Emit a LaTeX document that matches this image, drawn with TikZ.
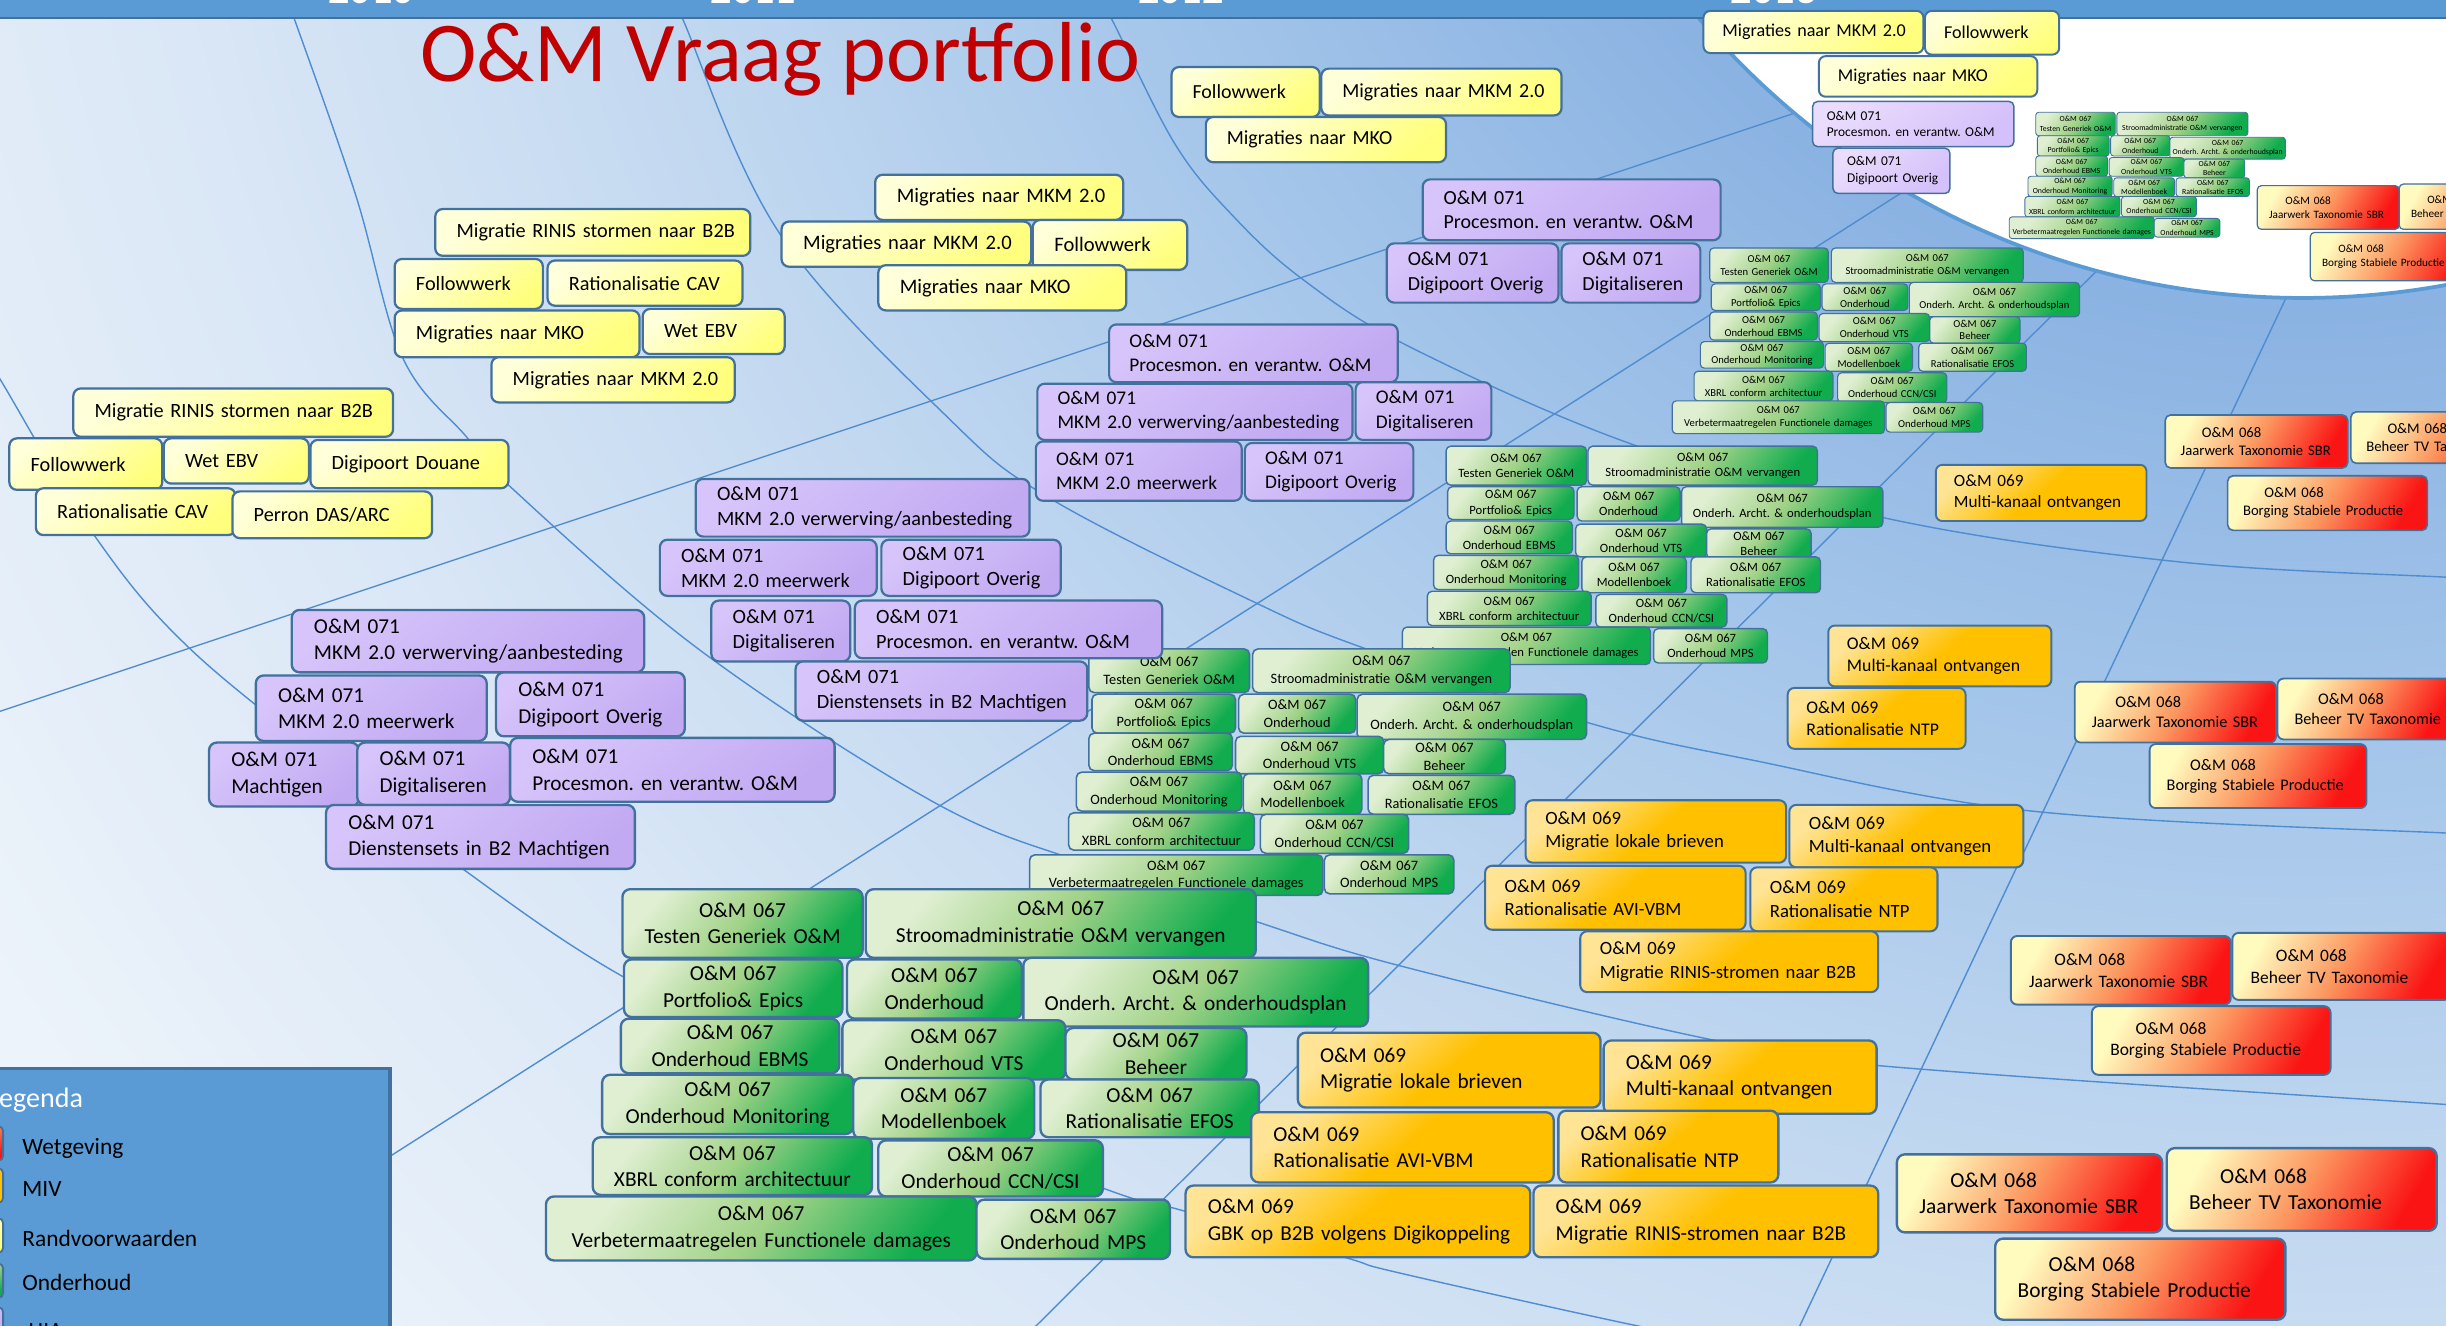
\documentclass[tikz,border=0pt]{standalone}
\usepackage{fontspec}
\setmainfont{Carlito}
\frenchspacing

\definecolor{barblue}{RGB}{91,155,213}
\definecolor{edgeblue}{RGB}{65,113,156}
\definecolor{ringblue}{RGB}{79,140,208}
\definecolor{titlered}{RGB}{192,0,0}
\definecolor{bgA}{RGB}{138,178,226}
\definecolor{bgB}{RGB}{165,198,234}
\definecolor{bgC}{RGB}{194,216,240}
\definecolor{bgD}{RGB}{218,231,246}
\definecolor{bgE}{RGB}{236,243,250}
\definecolor{yelA}{RGB}{255,255,218}
\definecolor{yelB}{RGB}{255,255,125}
\definecolor{purA}{RGB}{214,196,250}
\definecolor{purB}{RGB}{194,170,242}
\definecolor{purlA}{RGB}{234,220,253}
\definecolor{purlB}{RGB}{212,192,250}
\definecolor{grnA}{RGB}{224,239,210}
\definecolor{grnM}{RGB}{160,210,135}
\definecolor{grnB}{RGB}{16,172,78}
\definecolor{orA}{RGB}{255,228,150}
\definecolor{orB}{RGB}{255,192,0}
\definecolor{redA}{RGB}{255,250,190}
\definecolor{redM}{RGB}{252,150,95}
\definecolor{redB}{RGB}{250,20,20}

% path bounding box maps to the inner 25bp radius
\pgfdeclareradialshading{bgshade}{\pgfpointorigin}{color(0bp)=(bgA); color(6.35bp)=(bgA); color(10bp)=(bgB); color(13.75bp)=(bgC); color(17.5bp)=(bgD); color(21.9bp)=(bgE); color(25bp)=(bgE); color(50bp)=(bgE)}

\tikzset{
  fs/.style 2 args={font=\fontsize{#1}{#2}\selectfont, line width=0.11*#1*1pt, rounded corners=0.37*#1*1pt},
  box/.style={anchor=north west, draw=edgeblue, inner ysep=0pt, inner xsep=0pt, outer sep=0pt},
  bl/.style 2 args={box, text width=#1*0.5pt, minimum height=#2*0.5pt,
    execute at begin node={\leftskip=1.05em\rightskip=0pt plus 1fil}},
  bc/.style 2 args={box, text width=#1*0.5pt, minimum height=#2*0.5pt, align=center},
  yel/.style={top color=yelA, bottom color=yelB, shading angle=40},
  pur/.style={top color=purA, bottom color=purB, shading angle=40},
  purl/.style={top color=purlA, bottom color=purlB, shading angle=40},
  grn/.style={top color=grnA, bottom color=grnB, middle color=grnM, shading angle=50},
  org/.style={top color=orA, bottom color=orB, middle color=orB, shading angle=40},
  rood/.style={top color=redA, bottom color=redB, middle color=redM, shading angle=60},
  ring/.style={draw=ringblue, line width=0.45pt},
  year/.style={anchor=base, inner sep=0pt, text=white, font=\bfseries\fontsize{13.5}{16}\selectfont},
  legtxt/.style={anchor=base west, inner sep=0pt, font=\fontsize{7.5}{9}\selectfont},
  legsq/.style={box, minimum width=10.5pt, minimum height=11pt, rounded corners=1.5pt, line width=0.6pt}
}

\begin{document}
\begin{tikzpicture}[x=0.5pt, y=-0.5pt]
  \useasboundingbox (0,0) rectangle (1568,850);
  \clip (0,0) rectangle (1568,850);

  % background with rings and spokes
  \shade[shading=bgshade] (1476,-316) circle [radius=1000pt];
  \draw[ring] plot[smooth, tension=0.6] coordinates {(-10,228) (0,243) (61,344) (123,417) (229,503) (298,558) (401,627) (550,700) (708,762) (758,776) (862,806) (897,816) (1050,850) (1100,858)};
  \draw[ring] plot[smooth, tension=0.6] coordinates {(180,-10) (189,13) (228,125) (258,229) (299,280) (326,311) (449,417) (600,515) (700,555) (806,591) (897,619) (1090,665) (1203,683) (1568,708) (1620,710)};
  \draw[ring] plot[smooth, tension=0.6] coordinates {(430,-10) (438,13) (500,150) (609,269) (674,320) (802,385) (873,415) (1017,463) (1122,487) (1303,520) (1568,534) (1620,535)};
  \draw[ring] plot[smooth, tension=0.6] coordinates {(700,-10) (713,13) (753,92) (790,138) (835,179) (903,222) (1044,284) (1208,332) (1395,360) (1568,370) (1620,372)};
  \draw[ring] (-30,466) -- (1200,56);
  \draw[ring] (150,805) -- (1270,91);
  \draw[ring] (640,874) -- (1400,118);
  \draw[ring] (1140,879) -- (1490,139);
  \filldraw[fill=white, draw=barblue, line width=1.2pt] (1476,-316) circle [radius=253.5pt];

  % year bar
  \fill[barblue] (0,0) rectangle (1568,11);
  \draw[edgeblue, line width=0.9pt] (0,11.5) -- (1568,11.5);
  \node[year] (j10) at (238,2) {2010};
  \node[year] (j11) at (483,2) {2011};
  \node[year] (j12) at (757,2) {2012};
  \node[year] (j13) at (1137,2) {2013};

  \node[anchor=base west, inner sep=0pt, text=titlered, font=\fontsize{27.3}{32}\selectfont] (title) at (269,52) {O\&M Vraag portfolio};

  % Randvoorwaarden
  \begin{scope}[every node/.append style={fs={5.8}{7}}]
    \node[yel, bl={141}{27}] (y5a) at (1092,7) {Migraties naar MKM 2.0};
    \node[yel, bl={86}{28}] (y5b) at (1234,7) {Followwerk};
    \node[yel, bl={140}{26}] (y5c) at (1166,36) {Migraties naar MKO};
  \end{scope}
  \begin{scope}[every node/.append style={fs={6.4}{7.9}}]
    \node[yel, bl={95}{32}] (y4a) at (751,43) {Followwerk};
    \node[yel, bl={154}{30}] (y4b) at (847,44) {Migraties naar MKM 2.0};
    \node[yel, bl={154}{29}] (y4c) at (773,75) {Migraties naar MKO};
  \end{scope}
  \begin{scope}[every node/.append style={fs={6.6}{8.2}}]
    \node[yel, bl={159}{29}] (y3a) at (561,112) {Migraties naar MKM 2.0};
    \node[yel, bl={160}{29}] (y3b) at (501,142) {Migraties naar MKM 2.0};
    \node[yel, bl={99}{32}] (y3c) at (662,141) {Followwerk};
    \node[yel, bl={159}{29}] (y3d) at (563,170) {Migraties naar MKO};
  \end{scope}
  \begin{scope}[every node/.append style={fs={6.5}{8.1}}]
    \node[yel, bl={202}{30}] (y2a) at (279,134) {Migratie RINIS stormen naar B2B};
    \node[yel, bl={95}{32}] (y2b) at (253,166) {Followwerk};
    \node[yel, bl={125}{29}] (y2c) at (351,167) {Rationalisatie CAV};
    \node[yel, bl={157}{30}] (y2d) at (253,199) {Migraties naar MKO};
    \node[yel, bl={91}{29}] (y2e) at (412,198) {Wet EBV};
    \node[yel, bl={156}{29}] (y2f) at (315,229) {Migraties naar MKM 2.0};
  \end{scope}
  \begin{scope}[every node/.append style={fs={6.5}{8.1}}]
    \node[yel, bl={205}{31}] (y1a) at (47,249) {Migratie RINIS stormen naar B2B};
    \node[yel, bl={98}{33}] (y1b) at (6,281) {Followwerk};
    \node[yel, bl={93}{29}] (y1c) at (105,281) {Wet EBV};
    \node[yel, bl={127}{31}] (y1d) at (199,282) {Digipoort Douane};
    \node[yel, bl={128}{30}] (y1e) at (23,313) {Rationalisatie CAV};
    \node[yel, bl={128}{30}] (y1f) at (149,315) {Perron DAS/ARC};
  \end{scope}

  % Onderhoud
  \begin{scope}[every node/.append style={fs={2.5}{3.05}}]
    \node[grn, bc={51}{15}] (g5a) at (1305,72) {O\&M 067\\Testen Generiek O\&M};
    \node[grn, bc={84}{15}] (g5b) at (1357,72) {O\&M 067\\Stroomadministratie O\&M vervangen};
    \node[grn, bc={46}{13}] (g5c) at (1306,87) {O\&M 067\\Portfolio\& Epics};
    \node[grn, bc={38}{13}] (g5d) at (1353,87) {O\&M 067\\Onderhoud};
    \node[grn, bc={74}{14}] (g5e) at (1391,88) {O\&M 067\\Onderh. Archt. \& onderhoudsplan};
    \node[grn, bc={46}{13}] (g5f) at (1305,100) {O\&M 067\\Onderhoud EBMS};
    \node[grn, bc={48}{12}] (g5g) at (1352,101) {O\&M 067\\Onderhoud VTS};
    \node[grn, bc={39}{12}] (g5h) at (1400,102) {O\&M 067\\Beheer};
    \node[grn, bc={54}{13}] (g5i) at (1300,113) {O\&M 067\\Onderhoud Monitoring};
    \node[grn, bc={39}{12}] (g5j) at (1355,114) {O\&M 067\\Modellenboek};
    \node[grn, bc={47}{12}] (g5k) at (1395,114) {O\&M 067\\Rationalisatie EFOS};
    \node[grn, bc={61}{13}] (g5l) at (1298,126) {O\&M 067\\XBRL conform architectuur};
    \node[grn, bc={48}{13}] (g5m) at (1360,126) {O\&M 067\\Onderhoud CCN/CSI};
    \node[grn, bc={93}{14}] (g5n) at (1288,139) {O\&M 067\\Verbetermaatregelen Functionele damages};
    \node[grn, bc={42}{12}] (g5o) at (1381,140) {O\&M 067\\Onderhoud MPS};
  \end{scope}
  \begin{scope}[every node/.append style={fs={3.4}{4.1}}]
    \node[grn, bc={76}{22}] (g4a) at (1096,159) {O\&M 067\\Testen Generiek O\&M};
    \node[grn, bc={123}{22}] (g4b) at (1174,159) {O\&M 067\\Stroomadministratie O\&M vervangen};
    \node[grn, bc={70}{17}] (g4c) at (1097,182) {O\&M 067\\Portfolio\& Epics};
    \node[grn, bc={55}{17}] (g4d) at (1168,182) {O\&M 067\\Onderhoud};
    \node[grn, bc={109}{22}] (g4e) at (1224,181) {O\&M 067\\Onderh. Archt. \& onderhoudsplan};
    \node[grn, bc={69}{18}] (g4f) at (1096,200) {O\&M 067\\Onderhoud EBMS};
    \node[grn, bc={71}{18}] (g4g) at (1166,201) {O\&M 067\\Onderhoud VTS};
    \node[grn, bc={58}{17}] (g4h) at (1237,203) {O\&M 067\\Beheer};
    \node[grn, bc={79}{17}] (g4i) at (1090,219) {O\&M 067\\Onderhoud Monitoring};
    \node[grn, bc={56}{18}] (g4j) at (1170,220) {O\&M 067\\Modellenboek};
    \node[grn, bc={69}{18}] (g4k) at (1230,220) {O\&M 067\\Rationalisatie EFOS};
    \node[grn, bc={89}{19}] (g4l) at (1086,238) {O\&M 067\\XBRL conform architectuur};
    \node[grn, bc={70}{19}] (g4m) at (1178,239) {O\&M 067\\Onderhoud CCN/CSI};
    \node[grn, bc={136}{21}] (g4n) at (1072,257) {O\&M 067\\Verbetermaatregelen Functionele damages};
    \node[grn, bc={62}{19}] (g4o) at (1209,258) {O\&M 067\\Onderhoud MPS};
  \end{scope}
  \begin{scope}[every node/.append style={fs={4.05}{4.9}}]
    \node[grn, bc={90}{25}] (g3a) at (927,286) {O\&M 067\\Testen Generiek O\&M};
    \node[grn, bc={147}{25}] (g3b) at (1018,286) {O\&M 067\\Stroomadministratie O\&M vervangen};
    \node[grn, bc={81}{21}] (g3c) at (928,312) {O\&M 067\\Portfolio\& Epics};
    \node[grn, bc={66}{22}] (g3d) at (1011,312) {O\&M 067\\Onderhoud};
    \node[grn, bc={129}{26}] (g3e) at (1078,312) {O\&M 067\\Onderh. Archt. \& onderhoudsplan};
    \node[grn, bc={81}{21}] (g3f) at (927,334) {O\&M 067\\Onderhoud EBMS};
    \node[grn, bc={84}{21}] (g3g) at (1010,336) {O\&M 067\\Onderhoud VTS};
    \node[grn, bc={67}{19}] (g3h) at (1094,339) {O\&M 067\\Beheer};
    \node[grn, bc={93}{22}] (g3i) at (919,356) {O\&M 067\\Onderhoud Monitoring};
    \node[grn, bc={67}{23}] (g3j) at (1014,357) {O\&M 067\\Modellenboek};
    \node[grn, bc={83}{23}] (g3k) at (1084,357) {O\&M 067\\Rationalisatie EFOS};
    \node[grn, bc={105}{22}] (g3l) at (915,379) {O\&M 067\\XBRL conform architectuur};
    \node[grn, bc={84}{21}] (g3m) at (1023,381) {O\&M 067\\Onderhoud CCN/CSI};
    \node[grn, bc={159}{24}] (g3n) at (899,402) {O\&M 067\\Verbetermaatregelen Functionele damages};
    \node[grn, bc={73}{22}] (g3o) at (1060,403) {O\&M 067\\Onderhoud MPS};
  \end{scope}
  \begin{scope}[every node/.append style={fs={4.6}{5.6}}]
    \node[grn, bc={103}{28}] (g2a) at (698,416) {O\&M 067\\Testen Generiek O\&M};
    \node[grn, bc={165}{28}] (g2b) at (803,416) {O\&M 067\\Stroomadministratie O\&M vervangen};
    \node[grn, bc={92}{25}] (g2c) at (700,445) {O\&M 067\\Portfolio\& Epics};
    \node[grn, bc={75}{25}] (g2d) at (794,445) {O\&M 067\\Onderhoud};
    \node[grn, bc={147}{29}] (g2e) at (870,445) {O\&M 067\\Onderh. Archt. \& onderhoudsplan};
    \node[grn, bc={92}{24}] (g2f) at (698,470) {O\&M 067\\Onderhoud EBMS};
    \node[grn, bc={95}{24}] (g2g) at (792,472) {O\&M 067\\Onderhoud VTS};
    \node[grn, bc={78}{22}] (g2h) at (887,474) {O\&M 067\\Beheer};
    \node[grn, bc={106}{25}] (g2i) at (690,495) {O\&M 067\\Onderhoud Monitoring};
    \node[grn, bc={76}{26}] (g2j) at (797,496) {O\&M 067\\Modellenboek};
    \node[grn, bc={94}{25}] (g2k) at (877,497) {O\&M 067\\Rationalisatie EFOS};
    \node[grn, bc={119}{24}] (g2l) at (685,521) {O\&M 067\\XBRL conform architectuur};
    \node[grn, bc={95}{25}] (g2m) at (808,522) {O\&M 067\\Onderhoud CCN/CSI};
    \node[grn, bc={188}{26}] (g2n) at (660,548) {O\&M 067\\Verbetermaatregelen Functionele damages};
    \node[grn, bc={83}{25}] (g2o) at (849,548) {O\&M 067\\Onderhoud MPS};
  \end{scope}
  \begin{scope}[every node/.append style={fs={6.85}{8.5}}]
    \node[grn, bc={154}{44}] (g1a) at (399,570) {O\&M 067\\Testen Generiek O\&M};
    \node[grn, bc={250}{44}] (g1b) at (555,570) {O\&M 067\\Stroomadministratie O\&M vervangen};
    \node[grn, bc={140}{37}] (g1c) at (400,615) {O\&M 067\\Portfolio\& Epics};
    \node[grn, bc={112}{38}] (g1d) at (543,615) {O\&M 067\\Onderhoud};
    \node[grn, bc={221}{44}] (g1e) at (656,614) {O\&M 067\\Onderh. Archt. \& onderhoudsplan};
    \node[grn, bc={140}{35}] (g1f) at (398,653) {O\&M 067\\Onderhoud EBMS};
    \node[grn, bc={143}{38}] (g1g) at (540,654) {O\&M 067\\Onderhoud VTS};
    \node[grn, bc={116}{33}] (g1h) at (683,659) {O\&M 067\\Beheer};
    \node[grn, bc={161}{38}] (g1i) at (386,689) {O\&M 067\\Onderhoud Monitoring};
    \node[grn, bc={116}{39}] (g1j) at (547,691) {O\&M 067\\Modellenboek};
    \node[grn, bc={140}{37}] (g1k) at (667,692) {O\&M 067\\Rationalisatie EFOS};
    \node[grn, bc={179}{37}] (g1l) at (380,729) {O\&M 067\\XBRL conform architectuur};
    \node[grn, bc={144}{36}] (g1m) at (563,731) {O\&M 067\\Onderhoud CCN/CSI};
    \node[grn, bc={276}{41}] (g1n) at (350,767) {O\&M 067\\Verbetermaatregelen Functionele damages};
    \node[grn, bc={124}{38}] (g1o) at (626,769) {O\&M 067\\Onderhoud MPS};
  \end{scope}

  % MIV
  \begin{scope}[every node/.append style={fs={5.5}{6.8}}]
    \node[org, bl={135}{36}] (o4a) at (1241,298) {O\&M 069\\Multi-kanaal ontvangen};
  \end{scope}
  \begin{scope}[every node/.append style={fs={5.7}{7.1}}]
    \node[org, bl={143}{39}] (o3a) at (1172,401) {O\&M 069\\Multi-kanaal ontvangen};
    \node[org, bl={114}{39}] (o3b) at (1146,441) {O\&M 069\\Rationalisatie NTP};
  \end{scope}
  \begin{scope}[every node/.append style={fs={6.0}{7.5}}]
    \node[org, bl={167}{40}] (o2a) at (978,513) {O\&M 069\\Migratie lokale brieven};
    \node[org, bl={150}{40}] (o2b) at (1147,516) {O\&M 069\\Multi-kanaal ontvangen};
    \node[org, bl={167}{41}] (o2c) at (952,555) {O\&M 069\\Rationalisatie AVI-VBM};
    \node[org, bl={120}{41}] (o2d) at (1122,556) {O\&M 069\\Rationalisatie NTP};
    \node[org, bl={191}{39}] (o2e) at (1013,597) {O\&M 069\\Migratie RINIS-stromen naar B2B};
  \end{scope}
  \begin{scope}[every node/.append style={fs={6.8}{8.5}}]
    \node[org, bl={194}{48}] (o1a) at (832,662) {O\&M 069\\Migratie lokale brieven};
    \node[org, bl={175}{47}] (o1b) at (1028,667) {O\&M 069\\Multi-kanaal ontvangen};
    \node[org, bl={194}{45}] (o1c) at (802,713) {O\&M 069\\Rationalisatie AVI-VBM};
    \node[org, bl={141}{46}] (o1d) at (999,712) {O\&M 069\\Rationalisatie NTP};
    \node[org, bl={221}{46}] (o1e) at (760,760) {O\&M 069\\GBK op B2B volgens Digikoppeling};
    \node[org, bl={221}{46}] (o1f) at (983,760) {O\&M 069\\Migratie RINIS-stromen naar B2B};
  \end{scope}

  % Wetgeving
  \begin{scope}[every node/.append style={fs={3.6}{4.5}}]
    \node[rood, bl={91}{28}] (r5a) at (1447,119) {\hspace*{1.45em}O\&M 068\\Jaarwerk Taxonomie SBR};
    \node[rood, bl={91}{29}] (r5b) at (1538,118) {\hspace*{1.45em}O\&M 068\\Beheer TV Taxonomie};
    \node[rood, bl={106}{31}] (r5c) at (1481,149) {\hspace*{1.45em}O\&M 068\\Borging Stabiele Productie};
  \end{scope}
  \begin{scope}[every node/.append style={fs={4.7}{5.8}}]
    \node[rood, bl={117}{34}] (r4a) at (1388,266) {\hspace*{1.45em}O\&M 068\\Jaarwerk Taxonomie SBR};
    \node[rood, bl={117}{33}] (r4b) at (1507,264) {\hspace*{1.45em}O\&M 068\\Beheer TV Taxonomie};
    \node[rood, bl={128}{35}] (r4c) at (1428,305) {\hspace*{1.45em}O\&M 068\\Borging Stabiele Productie};
  \end{scope}
  \begin{scope}[every node/.append style={fs={5.2}{6.5}}]
    \node[rood, bl={129}{39}] (r3a) at (1330,437) {\hspace*{1.45em}O\&M 068\\Jaarwerk Taxonomie SBR};
    \node[rood, bl={112}{39}] (r3b) at (1460,435) {\hspace*{1.45em}O\&M 068\\Beheer TV Taxonomie};
    \node[rood, bl={139}{41}] (r3c) at (1378,477) {\hspace*{1.45em}O\&M 068\\Borging Stabiele Productie};
  \end{scope}
  \begin{scope}[every node/.append style={fs={5.6}{7}}]
    \node[rood, bl={141}{44}] (r2a) at (1289,600) {\hspace*{1.45em}O\&M 068\\Jaarwerk Taxonomie SBR};
    \node[rood, bl={140}{43}] (r2b) at (1431,598) {\hspace*{1.45em}O\&M 068\\Beheer TV Taxonomie};
    \node[rood, bl={153}{44}] (r2c) at (1341,645) {\hspace*{1.45em}O\&M 068\\Borging Stabiele Productie};
  \end{scope}
  \begin{scope}[every node/.append style={fs={6.85}{8.5}}]
    \node[rood, bl={170}{50}] (r1a) at (1216,740) {\hspace*{1.45em}O\&M 068\\Jaarwerk Taxonomie SBR};
    \node[rood, bl={173}{53}] (r1b) at (1389,736) {\hspace*{1.45em}O\&M 068\\Beheer TV Taxonomie};
    \node[rood, bl={186}{52}] (r1c) at (1279,794) {\hspace*{1.45em}O\&M 068\\Borging Stabiele Productie};
  \end{scope}

  % HIA
  \begin{scope}[every node/.append style={fs={4.3}{5.3}}]
    \node[purl, bl={129}{29}] (p5a) at (1162,65) {O\&M 071\\Procesmon. en verantw. O\&M};
    \node[purl, bl={75}{29}] (p5b) at (1175,95) {O\&M 071\\Digipoort Overig};
  \end{scope}
  \begin{scope}[every node/.append style={fs={6.4}{7.9}}]
    \node[pur, bl={191}{39}] (p4a) at (912,115) {O\&M 071\\Procesmon. en verantw. O\&M};
    \node[pur, bl={110}{38}] (p4b) at (889,156) {O\&M 071\\Digipoort Overig};
    \node[pur, bl={89}{38}] (p4c) at (1001,156) {O\&M 071\\Digitaliseren};
  \end{scope}
  \begin{scope}[every node/.append style={fs={6.2}{7.7}}]
    \node[pur, bl={185}{37}] (p3a) at (711,208) {O\&M 071\\Procesmon. en verantw. O\&M};
    \node[pur, bl={202}{36}] (p3b) at (665,246) {O\&M 071\\MKM 2.0 verwerving/aanbesteding};
    \node[pur, bl={87}{37}] (p3c) at (869,245) {O\&M 071\\Digitaliseren};
    \node[pur, bl={132}{38}] (p3d) at (664,283) {O\&M 071\\MKM 2.0 meerwerk};
    \node[pur, bl={108}{37}] (p3e) at (798,284) {O\&M 071\\Digipoort Overig};
  \end{scope}
  \begin{scope}[every node/.append style={fs={6.5}{8.1}}]
    \node[pur, bl={214}{37}] (p2a) at (446,307) {O\&M 071\\MKM 2.0 verwerving/aanbesteding};
    \node[pur, bl={139}{36}] (p2b) at (423,346) {O\&M 071\\MKM 2.0 meerwerk};
    \node[pur, bl={115}{36}] (p2c) at (565,346) {O\&M 071\\Digipoort Overig};
    \node[pur, bl={89}{39}] (p2d) at (456,385) {O\&M 071\\Digitaliseren};
    \node[pur, bl={197}{37}] (p2e) at (548,385) {O\&M 071\\Procesmon. en verantw. O\&M};
    \node[pur, bl={187}{38}] (p2f) at (510,424) {O\&M 071\\Dienstensets in B2 Machtigen};
  \end{scope}
  \begin{scope}[every node/.append style={fs={6.8}{8.5}}]
    \node[pur, bl={226}{40}] (p1a) at (187,391) {O\&M 071\\MKM 2.0 verwerving/aanbesteding};
    \node[pur, bl={148}{42}] (p1b) at (164,433) {O\&M 071\\MKM 2.0 meerwerk};
    \node[pur, bl={121}{41}] (p1c) at (318,431) {O\&M 071\\Digipoort Overig};
    \node[pur, bl={96}{41}] (p1d) at (134,476) {O\&M 071\\Machtigen};
    \node[pur, bl={98}{40}] (p1e) at (229,476) {O\&M 071\\Digitaliseren};
    \node[pur, bl={208}{41}] (p1f) at (327,473) {O\&M 071\\Procesmon. en verantw. O\&M};
    \node[pur, bl={198}{41}] (p1g) at (209,516) {O\&M 071\\Dienstensets in B2 Machtigen};
  \end{scope}

  % legend
  \node[box, fill=barblue, line width=1pt, minimum width=130pt, minimum height=92.5pt] (leg) at (-10,685) {};
  \node[legtxt, text=white, font=\fontsize{9}{11}\selectfont] (legt) at (-8.5,710) {Legenda};
  \node[rood, legsq] (sq1) at (-19,722) {};
  \node[org, legsq] (sq2) at (-19,749) {};
  \node[yel, legsq] (sq3) at (-19,781) {};
  \node[grn, legsq] (sq4) at (-19,810) {};
  \node[pur, legsq] (sq5) at (-19,838) {};
  \node[legtxt] (lw) at (14,740) {Wetgeving};
  \node[legtxt] (lm) at (14,767) {MIV};
  \node[legtxt] (lr) at (14,799) {Randvoorwaarden};
  \node[legtxt] (lo) at (14,827) {Onderhoud};
  \node[legtxt] (lh) at (18,858) {HIA};
\end{tikzpicture}
\end{document}
